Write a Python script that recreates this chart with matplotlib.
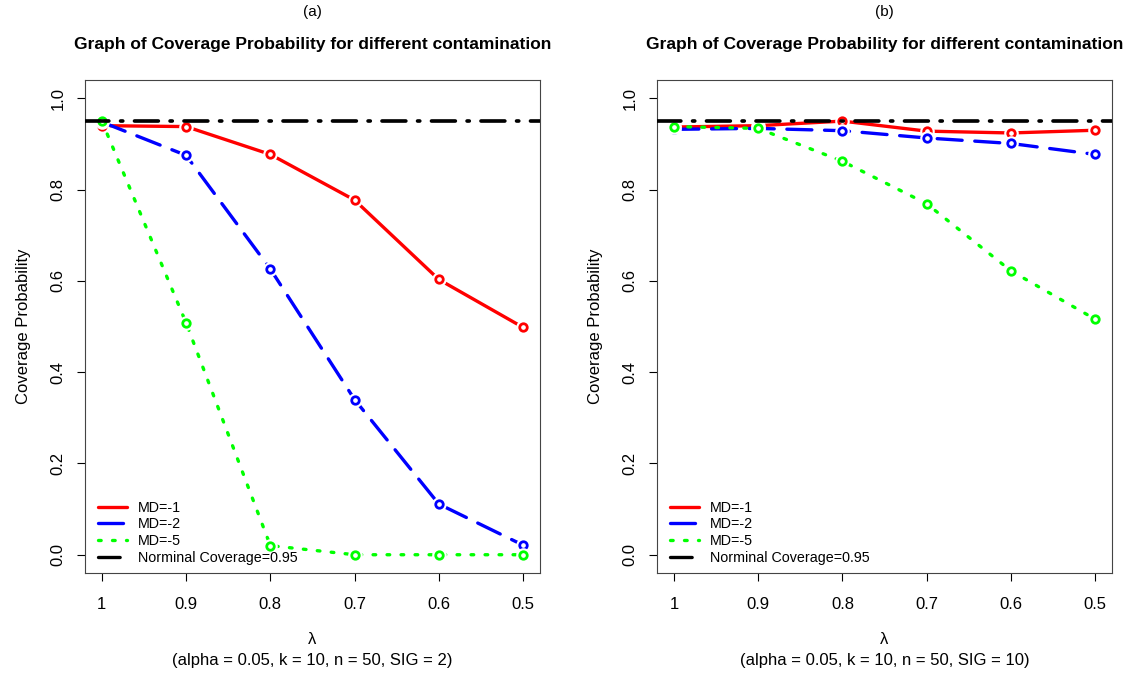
import numpy as np
import matplotlib.pyplot as plt
from matplotlib.lines import Line2D

plt.rcParams['font.family'] = ['Liberation Sans', 'DejaVu Sans']

# lambda values (x axis, decreasing)
lam = [1, 0.9, 0.8, 0.7, 0.6, 0.5]
lam_labels = ['1', '0.9', '0.8', '0.7', '0.6', '0.5']

# panel (a), SIG = 2
a_md1 = [0.940, 0.938, 0.877, 0.777, 0.603, 0.498]
a_md2 = [0.948, 0.875, 0.626, 0.340, 0.111, 0.021]
a_md5 = [0.950, 0.508, 0.020, 0.000, 0.000, 0.000]

# panel (b), SIG = 10
b_md1 = [0.937, 0.940, 0.950, 0.928, 0.924, 0.930]
b_md2 = [0.932, 0.934, 0.929, 0.913, 0.901, 0.877]
b_md5 = [0.938, 0.934, 0.862, 0.769, 0.622, 0.516]

nominal = 0.95
series_names = ['MD=-1', 'MD=-2', 'MD=-5']
colors = ['#ff0000', '#0000ff', '#00ff00']
dashes = [None, (7.5, 3.8), (0.8, 3.4)]
nom_dash = (6.5, 3.2, 0.6, 3.2)

LW = 2.4


def draw_series(ax, y, color, dash, z):
    # line with gaps round the points, like R type="b"
    kw = dict(color=color, lw=LW, solid_capstyle='round', dash_capstyle='round', zorder=z)
    line, = ax.plot(lam, y, **kw)
    if dash is not None:
        line.set_dashes(dash)
    ax.plot(lam, y, 'o', ms=10.5, mfc='white', mec='none', zorder=z + 0.1)
    ax.plot(lam, y, 'o', ms=5.4, mfc='none', mec=color, mew=2.0, zorder=z + 0.2)


def setup_panel(ax, label, sig):
    ax.set_xlim(1.02, 0.48)
    ax.set_ylim(-0.04, 1.04)
    ax.set_xticks(lam)
    ax.set_xticklabels(lam_labels)
    ax.set_yticks([0, 0.2, 0.4, 0.6, 0.8, 1.0])
    ax.set_yticklabels(['0.0', '0.2', '0.4', '0.6', '0.8', '1.0'], rotation=90, va='center')
    ax.tick_params(direction='out', length=6, width=0.8, labelsize=12, color='black')
    ax.tick_params(axis='x', pad=11)
    ax.tick_params(axis='y', pad=8)
    for s in ax.spines.values():
        s.set_color('#444444')
        s.set_linewidth(0.8)
    ax.set_ylabel('Coverage Probability', fontsize=12, labelpad=14)
    ax.set_xlabel('\u03bb\n(alpha = 0.05, k = 10, n = 50, SIG = %d)' % sig, fontsize=12,
                  labelpad=15, linespacing=1.45)
    ax.text(0.5, 1.138, label, transform=ax.transAxes, ha='center', va='center', fontsize=11)
    ax.set_title('Graph of Coverage Probability for different contamination',
                 fontsize=12.5, fontweight='bold', pad=22)


fig = plt.figure(figsize=(11.27, 6.73), dpi=100)
ax1 = fig.add_axes([0.0754, 0.1486, 0.4037, 0.7325])
ax2 = fig.add_axes([0.5830, 0.1486, 0.4037, 0.7325])

for ax, data, label, sig in [(ax1, [a_md1, a_md2, a_md5], '(a)', 2),
                             (ax2, [b_md1, b_md2, b_md5], '(b)', 10)]:
    for i, (y, c, d) in enumerate(zip(data, colors, dashes)):
        draw_series(ax, y, c, d, 2 + i)
    nl = ax.axhline(nominal, color='black', lw=LW * 1.1, dash_capstyle='round', zorder=6)
    nl.set_dashes(nom_dash)
    setup_panel(ax, label, sig)

    handles = []
    for c, d in zip(colors, dashes):
        h = Line2D([], [], color=c, lw=LW, dash_capstyle='round', solid_capstyle='round')
        if d is not None:
            h.set_dashes(d)
        handles.append(h)
    hb = Line2D([], [], color='black', lw=LW, dash_capstyle='round')
    hb.set_dashes(nom_dash)
    handles.append(hb)
    ax.legend(handles, series_names + ['Norminal Coverage=0.95'], loc='lower left',
              bbox_to_anchor=(0.012, 0.0), frameon=False, fontsize=10.3, handlelength=2.0,
              handletextpad=0.75, labelspacing=0.2, borderaxespad=0.15)

fig.savefig('out.png', dpi=100)
